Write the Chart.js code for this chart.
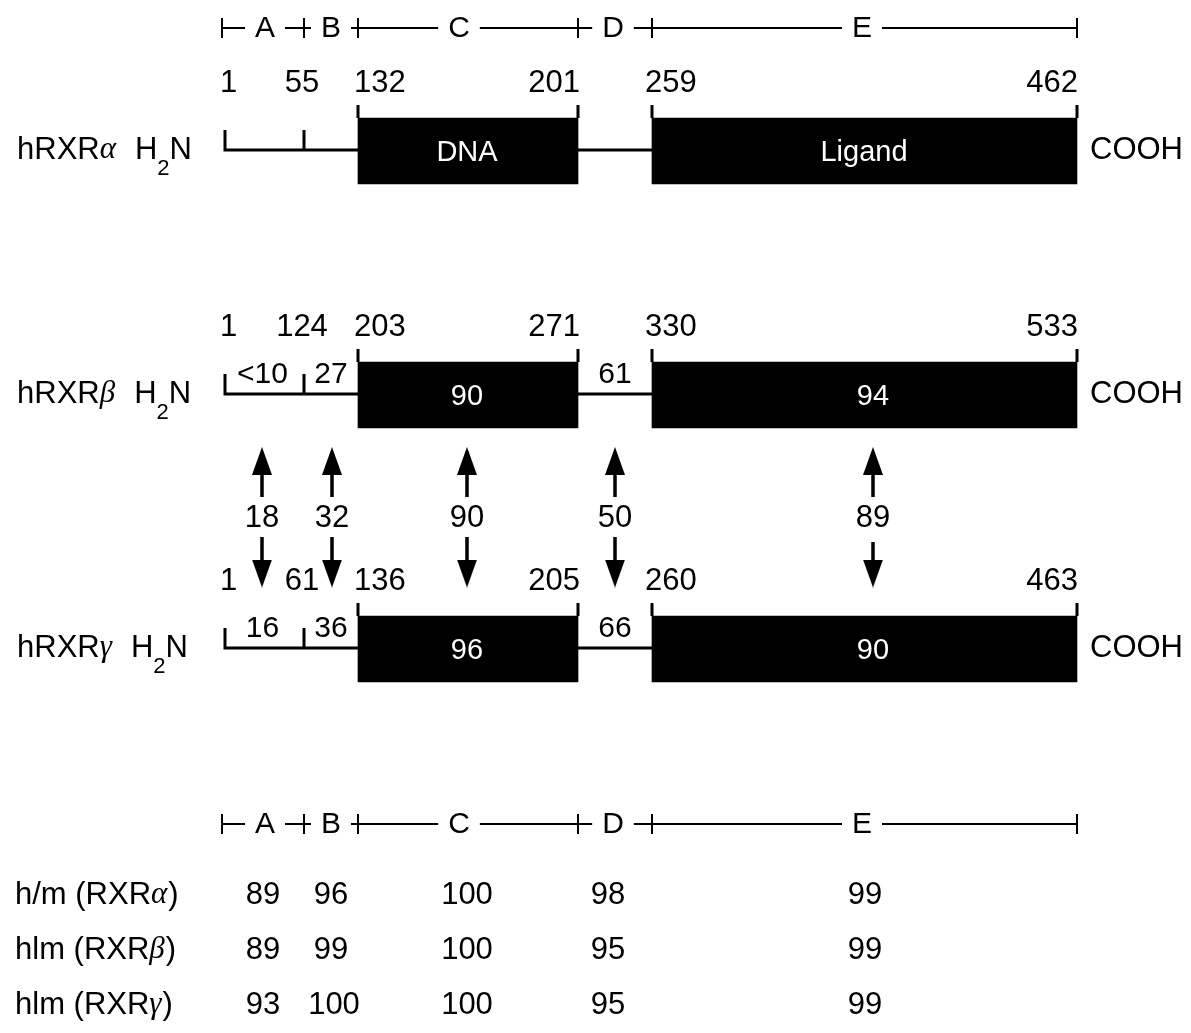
<!DOCTYPE html>
<html>
<head>
<meta charset="utf-8">
<script src="https://cdn.jsdelivr.net/npm/chart.js@4.4.1/dist/chart.umd.min.js"></script>
<style>
html, body { margin: 0; padding: 0; background: #fff; }
#wrap { width: 1191px; height: 1033px; }
</style>
</head>
<body>
<div id="wrap"><canvas id="rxr" width="1191" height="1033"></canvas></div>
<script>
// domains, residue numbers and % identity
const domains = ['A', 'B', 'C', 'D', 'E'];
const greek = ['α', 'β', 'γ'];
const residues = [
    [1, 55, 132, 201, 259, 462],
    [1, 124, 203, 271, 330, 533],
    [1, 61, 136, 205, 260, 463]
];
const boxText = [['DNA', 'Ligand'], ['90', '94'], ['96', '90']];
const linkerText = [[null, null, null], ['<10', '27', '61'], ['16', '36', '66']];
const betaVsGamma = ['18', '32', '90', '50', '89'];
const speciesRows = [['h/m', 'α'], ['hlm', 'β'], ['hlm', 'γ']];
const speciesIdentity = [
    [89, 96, 100, 98, 99],
    [89, 99, 100, 95, 99],
    [93, 100, 100, 95, 99]
];

// schematic layout (scale units)
const edgeX = [225, 304, 358, 578, 652, 1077];
const rowY = [150, 394, 648];
const rulerY = [28, 824];
const letterX = [265, 331, 459, 613, 862];
const arrowX = [262, 332, 467, 615, 873];
const tableX = [263, 331, 467, 608, 865];
const tableY = [895, 950, 1005];
const boxH = 66;

const SANS = '"Liberation Sans", Arial, sans-serif';
const GREEK = '"Liberation Serif", serif';

const measure = document.createElement('canvas').getContext('2d');
function textW(t, font) { measure.font = font; return measure.measureText(t).width; }

const gap = x => ({ x: x, y: null });

// boxes
const boxes = [];
rowY.forEach(ry => {
    boxes.push({ x: [edgeX[2], edgeX[3]], y: ry + 1 });
    boxes.push({ x: [edgeX[4], edgeX[5]], y: ry + 1 });
});

// backbone, brackets and ticks
const backbone = [];
rowY.forEach(ry => {
    const top = ry + 1 - boxH / 2;
    backbone.push({ x: edgeX[0], y: ry - 20 }, { x: edgeX[0], y: ry }, { x: edgeX[2], y: ry }, gap(0));
    backbone.push({ x: edgeX[1], y: ry - 20 }, { x: edgeX[1], y: ry }, gap(0));
    backbone.push({ x: edgeX[3], y: ry }, { x: edgeX[4], y: ry }, gap(0));
    [2, 3, 4, 5].forEach(i => backbone.push({ x: edgeX[i], y: top - 13 }, { x: edgeX[i], y: top }, gap(0)));
});

// domain rulers
const ruler = [];
const rulerFont = '30px ' + SANS;
rulerY.forEach(ry => {
    let start = edgeX[0] - 3;
    domains.forEach((d, i) => {
        const half = textW(d, rulerFont) / 2 + 10;
        ruler.push({ x: start, y: ry }, { x: letterX[i] - half, y: ry }, gap(0));
        start = letterX[i] + half;
    });
    ruler.push({ x: start, y: ry }, { x: edgeX[5], y: ry }, gap(0));
    edgeX.forEach((ex, i) => {
        const tx = i === 0 ? ex - 3 : ex;
        ruler.push({ x: tx, y: ry - 10 }, { x: tx, y: ry + 10 }, gap(0));
    });
});

// arrows between beta and gamma
const shafts = [];
const upHeads = [];
const downHeads = [];
arrowX.forEach((ax, i) => {
    shafts.push({ x: ax, y: 474 }, { x: ax, y: 497 }, gap(0));
    shafts.push({ x: ax, y: i === 4 ? 542 : 537 }, { x: ax, y: 561 }, gap(0));
    upHeads.push({ x: ax, y: 461 });
    downHeads.push({ x: ax, y: 573.5 });
});

function head(up) {
    const c = document.createElement('canvas');
    c.width = 20; c.height = 28;
    const g = c.getContext('2d');
    g.fillStyle = '#000';
    g.beginPath();
    if (up) { g.moveTo(10, 0); g.lineTo(20, 28); g.lineTo(0, 28); }
    else { g.moveTo(0, 0); g.lineTo(20, 0); g.lineTo(10, 28); }
    g.closePath();
    g.fill();
    return c;
}

function lineSet(data, width) {
    return {
        type: 'line', data: data, borderColor: '#000', borderWidth: width,
        pointRadius: 0, spanGaps: false, fill: false, tension: 0, borderCapStyle: 'butt'
    };
}

// draws runs of text: {t, font, dy}
function rich(ctx, x, y, parts) {
    let cx = x;
    parts.forEach(p => {
        ctx.font = p.font;
        ctx.textAlign = 'left';
        ctx.fillText(p.t, cx, y + (p.dy || 0));
        cx += ctx.measureText(p.t).width + (p.pad || 0);
    });
}

const labels = {
    id: 'labels',
    afterDatasetsDraw(chart) {
        const { ctx, scales: { x, y } } = chart;
        const X = v => x.getPixelForValue(v);
        const Y = v => y.getPixelForValue(v);
        const f31 = '31px ' + SANS;
        ctx.save();
        ctx.fillStyle = '#000';
        ctx.textBaseline = 'middle';

        // ruler letters
        rulerY.forEach(ry => domains.forEach((d, i) => {
            ctx.font = rulerFont; ctx.textAlign = 'center';
            ctx.fillText(d, X(letterX[i]), Y(ry + 1));
        }));

        rowY.forEach((ry, r) => {
            // residue numbers
            const ny = Y(ry - 67);
            const nums = residues[r];
            ctx.font = f31;
            ctx.textAlign = 'left'; ctx.fillText(nums[0], X(edgeX[0] - 5), ny);
            ctx.textAlign = 'center'; ctx.fillText(nums[1], X(edgeX[1] - 2), ny);
            ctx.textAlign = 'left'; ctx.fillText(nums[2], X(edgeX[2] - 4), ny);
            ctx.textAlign = 'right'; ctx.fillText(nums[3], X(edgeX[3] + 2), ny);
            ctx.textAlign = 'left'; ctx.fillText(nums[4], X(edgeX[4] - 7), ny);
            ctx.textAlign = 'right'; ctx.fillText(nums[5], X(edgeX[5] + 1), ny);

            // protein name and termini
            rich(ctx, X(17), Y(ry), [
                { t: 'hRXR', font: f31 },
                { t: greek[r], font: 'italic 31px ' + GREEK, pad: 19 },
                { t: 'H', font: f31 },
                { t: '2', font: '22px ' + SANS, dy: 19 },
                { t: 'N', font: f31 }
            ]);
            ctx.font = f31; ctx.textAlign = 'left';
            ctx.fillText('COOH', X(1090), Y(ry));

            // identity in linkers
            const lt = linkerText[r];
            ctx.font = '30px ' + SANS; ctx.textAlign = 'center';
            if (lt[0]) ctx.fillText(lt[0], X((edgeX[0] + edgeX[1]) / 2 - 2), Y(ry - 19));
            if (lt[1]) ctx.fillText(lt[1], X((edgeX[1] + edgeX[2]) / 2), Y(ry - 19));
            if (lt[2]) ctx.fillText(lt[2], X((edgeX[3] + edgeX[4]) / 2), Y(ry - 19));

            // text inside the boxes
            ctx.fillStyle = '#fff';
            ctx.font = '29px ' + SANS;
            ctx.fillText(boxText[r][0], X((edgeX[2] + edgeX[3]) / 2 - 1), Y(ry + 3));
            ctx.fillText(boxText[r][1], X(r === 0 ? 864 : arrowX[4]), Y(ry + 3));
            ctx.fillStyle = '#000';
        });

        // beta vs gamma identity
        ctx.font = f31; ctx.textAlign = 'center';
        betaVsGamma.forEach((t, i) => ctx.fillText(t, X(arrowX[i]), Y(518)));

        // species table
        speciesRows.forEach((s, r) => {
            rich(ctx, X(15), Y(tableY[r]), [
                { t: s[0] + ' (RXR', font: f31 },
                { t: s[1], font: 'italic 31px ' + GREEK, pad: 1 },
                { t: ')', font: f31 }
            ]);
            ctx.font = f31; ctx.textAlign = 'center';
            speciesIdentity[r].forEach((v, i) => ctx.fillText(v, X(tableX[i] + (r === 2 && i === 1 ? 3 : 0)), Y(tableY[r])));
        });
        ctx.restore();
    }
};

new Chart(document.getElementById('rxr'), {
    type: 'scatter',
    data: {
        datasets: [
            {
                type: 'bar', indexAxis: 'y', data: boxes, backgroundColor: '#000',
                borderWidth: 0, barThickness: boxH, grouped: false
            },
            lineSet(backbone, 3),
            lineSet(ruler, 2),
            lineSet(shafts, 3.5),
            { type: 'scatter', data: upHeads, pointStyle: head(true), pointRadius: 10 },
            { type: 'scatter', data: downHeads, pointStyle: head(false), pointRadius: 10 }
        ]
    },
    options: {
        responsive: false,
        animation: false,
        events: [],
        layout: { padding: 0, autoPadding: false },
        plugins: { legend: { display: false }, tooltip: { enabled: false } },
        scales: {
            x: { type: 'linear', min: 0, max: 1191, offset: false, display: false },
            y: { type: 'linear', min: 0, max: 1033, reverse: true, offset: false, display: false }
        }
    },
    plugins: [labels]
});
</script>
</body>
</html>
